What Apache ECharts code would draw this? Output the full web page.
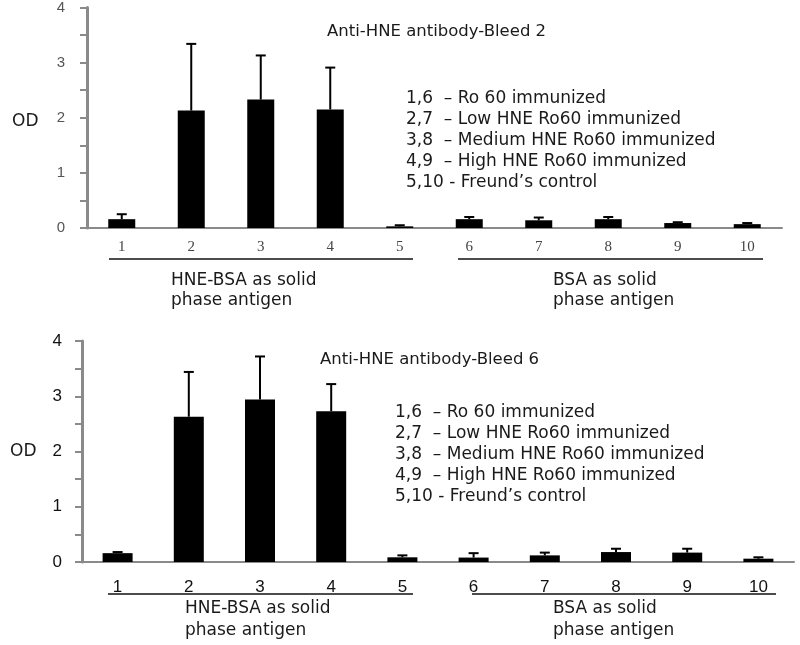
<!DOCTYPE html>
<html>
<head>
<meta charset="utf-8">
<script src="https://cdn.jsdelivr.net/npm/echarts@6/dist/echarts.min.js"></script>
<style>
  html, body { margin: 0; padding: 0; background: #fff; }
  #main { width: 800px; height: 645px; }
</style>
</head>
<body>
<div id="main"></div>
<script>
const categories = ['1', '2', '3', '4', '5', '6', '7', '8', '9', '10']
const yTicks = [0, 0.5, 1, 1.5, 2, 2.5, 3, 3.5, 4]

// Bleed 2 (top panel): mean OD and upper error (SD)
const bleed2Mean = [0.16, 2.13, 2.33, 2.15, 0.03, 0.16, 0.14, 0.16, 0.09, 0.07]
const bleed2Err = [0.09, 1.21, 0.8, 0.76, 0.02, 0.04, 0.05, 0.04, 0.015, 0.02]

// Bleed 6 (bottom panel)
const bleed6Mean = [0.16, 2.63, 2.94, 2.73, 0.085, 0.08, 0.12, 0.18, 0.17, 0.06]
const bleed6Err = [0.02, 0.81, 0.78, 0.49, 0.035, 0.08, 0.05, 0.06, 0.07, 0.025]

const legendLines = [
  '1,6  \u2013 Ro 60 immunized',
  '2,7  \u2013 Low HNE Ro60 immunized',
  '3,8  \u2013 Medium HNE Ro60 immunized',
  '4,9  \u2013 High HNE Ro60 immunized',
  '5,10 - Freund\u2019s control',
]

const chart = echarts.init(document.getElementById('main'))

const axisGray = '#8a8a8a'

function yAxis(gridIndex, font) {
  return {
    type: 'value',
    gridIndex,
    min: yTicks[0],
    max: yTicks[yTicks.length - 1],
    interval: 0.5,
    splitLine: { show: false },
    axisLine: { show: true, lineStyle: { color: axisGray, width: 3 } },
    axisTick: { show: true, length: 7, lineStyle: { color: axisGray, width: 2 } },
    axisLabel: {
      margin: font.margin,
      fontFamily: font.family,
      fontSize: font.size,
      color: font.color,
      padding: [8, 0, 0, 0],
      formatter: (v) => (v % 1 === 0 ? String(v) : ''),
    },
  }
}

function xAxis(gridIndex, font) {
  return {
    type: 'category',
    gridIndex,
    data: categories,
    boundaryGap: true,
    axisLine: { lineStyle: { color: axisGray, width: 2 } },
    axisTick: { length: 4, lineStyle: { color: axisGray, width: 2 } },
    axisLabel: {
      margin: font.margin,
      fontFamily: font.family,
      fontSize: font.size,
      color: font.color,
    },
  }
}

function errorSeries(idx, mean, err) {
  return {
    type: 'custom',
    xAxisIndex: idx,
    yAxisIndex: idx,
    z: 1,
    data: mean.map((m, i) => [i, m, m + err[i]]),
    renderItem: (params, api) => {
      const lo = api.coord([api.value(0), api.value(1)])
      const hi = api.coord([api.value(0), api.value(2)])
      const half = 5
      const style = { stroke: '#000', lineWidth: 2 }
      return {
        type: 'group',
        children: [
          { type: 'line', shape: { x1: lo[0], y1: lo[1], x2: hi[0], y2: hi[1] }, style },
          { type: 'line', shape: { x1: hi[0] - half, y1: hi[1], x2: hi[0] + half, y2: hi[1] }, style },
        ],
      }
    },
  }
}

function textBlock(left, top, lines, size, lineHeight, family) {
  return {
    type: 'text',
    left,
    top,
    style: {
      text: lines.join('\n'),
      font: `${size}px ${family}`,
      fill: '#1a1a1a',
      lineHeight,
    },
  }
}

function hline(x1, x2, y) {
  return {
    type: 'line',
    shape: { x1, y1: y, x2, y2: y },
    style: { stroke: '#111', lineWidth: 1.5 },
  }
}

const sans = 'Arial, "Liberation Sans", sans-serif'
const wide = '"DejaVu Sans", Verdana, sans-serif'
const serif = '"Liberation Serif", "Times New Roman", serif'

const option = {
  animation: false,
  backgroundColor: '#fff',
  title: [
    {
      text: 'Anti-HNE antibody-Bleed 2',
      left: 322, top: 18,
      textStyle: { fontFamily: wide, fontSize: 16.5, fontWeight: 'normal', color: '#1a1a1a' },
    },
    {
      text: 'Anti-HNE antibody-Bleed 6',
      left: 315, top: 346,
      textStyle: { fontFamily: wide, fontSize: 16.5, fontWeight: 'normal', color: '#1a1a1a' },
    },
  ],
  grid: [
    { left: 87, right: 18, top: 5, bottom: 417 },
    { left: 82, right: 6, top: 341, bottom: 83 },
  ],
  xAxis: [
    xAxis(0, { margin: 12, family: serif, size: 15, color: '#444' }),
    xAxis(1, { margin: 17, family: sans, size: 17, color: '#111' }),
  ],
  yAxis: [
    yAxis(0, { margin: 22, family: sans, size: 15, color: '#555' }),
    yAxis(1, { margin: 20, family: sans, size: 17, color: '#111' }),
  ],
  series: [
    {
      type: 'bar', xAxisIndex: 0, yAxisIndex: 0, barWidth: 27,
      itemStyle: { color: '#000' }, data: bleed2Mean, z: 2,
    },
    errorSeries(0, bleed2Mean, bleed2Err),
    {
      type: 'bar', xAxisIndex: 1, yAxisIndex: 1, barWidth: 30,
      itemStyle: { color: '#000' }, data: bleed6Mean, z: 2,
    },
    errorSeries(1, bleed6Mean, bleed6Err),
  ],
  graphic: [
    { type: 'text', left: 12, top: 113, style: { text: 'OD', font: `17px ${wide}`, fill: '#1a1a1a' } },
    { type: 'text', left: 10, top: 443, style: { text: 'OD', font: `17px ${wide}`, fill: '#1a1a1a' } },
    textBlock(406, 88, legendLines, 17, 21, wide),
    textBlock(395, 402, legendLines, 17, 21, wide),
    hline(109, 413, 259),
    hline(458, 763, 259),
    hline(108, 413, 594),
    hline(472, 776, 594),
    textBlock(171, 271, ['HNE-BSA as solid', 'phase antigen'], 17, 20, wide),
    textBlock(553, 271, ['BSA as solid', 'phase antigen'], 17, 20, wide),
    textBlock(185, 598, ['HNE-BSA as solid', 'phase antigen'], 17, 22, wide),
    textBlock(553, 598, ['BSA as solid', 'phase antigen'], 17, 22, wide),
  ],
}

chart.setOption(option)
</script>
</body>
</html>
